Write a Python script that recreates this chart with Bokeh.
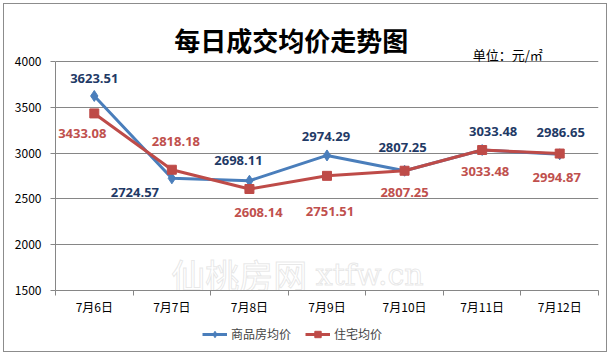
from bokeh.plotting import figure
from bokeh.layouts import column
from bokeh.models import (Range1d, FixedTicker, Label, Legend, LegendItem,
                          ColumnDataSource)
from bokeh.embed import file_html
from bokeh.resources import INLINE

# ---- data ----
dates = ["7月6日", "7月7日", "7月8日", "7月9日", "7月10日", "7月11日", "7月12日"]
commercial = [3623.51, 2724.57, 2698.11, 2974.29, 2807.25, 3033.48, 2986.65]
residential = [3433.08, 2818.18, 2608.14, 2751.51, 2807.25, 3033.48, 2994.87]
series_names = ["商品房均价", "住宅均价"]
y_ticks = [1500, 2000, 2500, 3000, 3500, 4000]
title_text = "每日成交均价走势图"
unit_text = "单位：元/㎡"
watermark = ["仙桃房网", "xtfw.cn"]

# ---- label styling offsets (pixels) ----
blue_dx = [0, -37, -11, -1, -2, 11, 1]
blue_dy = [-17, 14, -20, -19, -23, -19, -22]
red_dx = [-12, 4, 9, 3, 0, 3, -3]
red_dy = [20, -28, 24, 36, 22, 21, 24]

BLUE = "#4A7EBB"
RED = "#BE4B48"
BLUE_TXT = "#1F3A66"
RED_TXT = "#C0504D"
GRID = "#868686"
CJK = "Noto Sans CJK SC"
NUM = "Open Sans"

xs = [i + 0.5 for i in range(len(dates))]

p = figure(width=602, height=314, output_backend="svg", toolbar_location=None,
           title=None, x_range=Range1d(0, len(dates)), y_range=Range1d(1500, 4622),
           min_border_left=51, min_border_right=8, min_border_top=0,
           min_border_bottom=28)
p.outline_line_color = None
p.background_fill_color = "white"
p.border_fill_color = "white"

# axes
p.xaxis.ticker = FixedTicker(ticks=xs, minor_ticks=list(range(len(dates) + 1)))
p.xaxis.major_label_overrides = {x: d for x, d in zip(xs, dates)}
p.xaxis.major_tick_out = 0
p.xaxis.major_tick_in = 0
p.xaxis.minor_tick_out = 5
p.xaxis.minor_tick_in = 0
p.xaxis.minor_tick_line_color = GRID
p.xaxis.axis_line_color = GRID
p.xaxis.major_label_text_font = CJK
p.xaxis.major_label_text_font_size = "12px"
p.xaxis.major_label_text_color = "black"
p.xaxis.major_label_standoff = 2

p.yaxis.ticker = FixedTicker(ticks=y_ticks)
p.yaxis.bounds = (y_ticks[0], y_ticks[-1])
p.yaxis.minor_tick_line_color = None
p.yaxis.major_tick_out = 5
p.yaxis.major_tick_in = 0
p.yaxis.major_tick_line_color = GRID
p.yaxis.axis_line_color = GRID
p.yaxis.major_label_text_font = CJK
p.yaxis.major_label_text_font_size = "12px"
p.yaxis.major_label_text_color = "black"
p.yaxis.major_label_standoff = 9

p.xgrid.grid_line_color = None
p.ygrid.ticker = FixedTicker(ticks=y_ticks)
p.ygrid.grid_line_color = GRID
p.ygrid.grid_line_width = 1

src = ColumnDataSource(dict(x=xs, c=commercial, r=residential,
                            ct=[f"{v:.2f}" for v in commercial],
                            rt=[f"{v:.2f}" for v in residential],
                            bdx=blue_dx, bdy=blue_dy, rdx=red_dx, rdy=red_dy))

# watermark (faint outlined text, just above the 1500 line)
p.add_layout(Label(x=2.37, y=1672, text=watermark[0], text_align="center",
                   text_baseline="middle", text_font=CJK, text_font_size="34px",
                   text_color="white", text_alpha=0.4, level="underlay",
                   text_outline_color="#c4c4c4"))
p.add_layout(Label(x=4.05, y=1672, text=watermark[1], text_align="center",
                   text_baseline="middle", text_font="DejaVu Serif", text_font_size="30px",
                   text_color="white", text_alpha=0.4, level="underlay",
                   text_outline_color="#c4c4c4"))

p.line("x", "c", source=src, line_color=BLUE, line_width=3)
p.scatter("x", "c", source=src, marker="diamond", size=11,
          fill_color=BLUE, line_color=BLUE)
p.line("x", "r", source=src, line_color=RED, line_width=3)
p.scatter("x", "r", source=src, marker="square", size=9,
          fill_color=RED, line_color=RED)

p.text("x", "c", text="ct", source=src, x_offset="bdx", y_offset="bdy",
       text_align="center", text_baseline="middle", text_font={"value": NUM},
       text_font_size="13px", text_font_style="bold", text_color=BLUE_TXT)
p.text("x", "r", text="rt", source=src, x_offset="rdx", y_offset="rdy",
       text_align="center", text_baseline="middle", text_font={"value": NUM},
       text_font_size="13px", text_font_style="bold", text_color=RED_TXT)

# title and unit (inside the extended frame, above the 4000 line)
p.add_layout(Label(x=3.04, y=4240, text=title_text, text_align="center",
                   text_baseline="middle", text_font=CJK, text_font_size="26px",
                   text_font_style="bold", text_color="black"))
p.add_layout(Label(x=5.83, y=4076, text=unit_text, text_align="center",
                   text_baseline="middle", text_font=CJK, text_font_size="13px",
                   text_color="black"))

# legend strip below the chart (same series, drawn off-frame so only the legend shows)
q = figure(width=602, height=33, output_backend="svg", toolbar_location=None,
           title=None, x_range=Range1d(0, len(dates)), y_range=Range1d(0, 1),
           min_border_left=51, min_border_right=8, min_border_top=0,
           min_border_bottom=0, x_axis_type=None, y_axis_type=None)
q.outline_line_color = None
q.xgrid.visible = False
q.ygrid.visible = False
ql1 = q.line("x", "c", source=src, line_color=BLUE, line_width=3)
qs1 = q.scatter("x", "c", source=src, marker="diamond", size=11,
                fill_color=BLUE, line_color=BLUE)
ql2 = q.line("x", "r", source=src, line_color=RED, line_width=3)
qs2 = q.scatter("x", "r", source=src, marker="square", size=9,
                fill_color=RED, line_color=RED)

legend = Legend(items=[LegendItem(label=series_names[0], renderers=[ql1, qs1]),
                       LegendItem(label=series_names[1], renderers=[ql2, qs2])],
                location=(147, 9), orientation="horizontal",
                border_line_color=None, background_fill_alpha=0,
                padding=0, margin=0, spacing=14, glyph_width=25,
                glyph_height=16, label_height=16,
                label_standoff=4, label_text_font=CJK,
                label_text_font_size="12px")
q.add_layout(legend)

layout = column(p, q, spacing=0,
                styles={"border": "1px solid #8c8c8c", "margin": "3px 0 0 3px"})
open("out.html", "w").write(file_html(layout, INLINE))
